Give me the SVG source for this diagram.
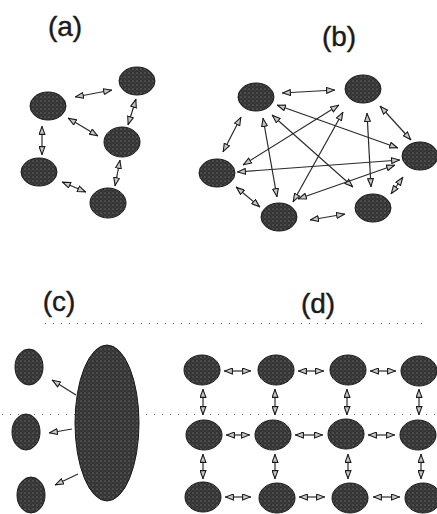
<svg xmlns="http://www.w3.org/2000/svg" width="437" height="514" viewBox="0 0 437 514">
<style>
.lbl{font-family:"Liberation Sans",Arial,sans-serif;font-size:28px;fill:#1a1a1a;stroke:#1a1a1a;stroke-width:0.4;text-anchor:middle}
.nd{fill:url(#tex);stroke:#1a1a1a;stroke-width:1}
.ln{stroke:#2a2a2a;stroke-width:1.2;fill:none}
.bi{marker-start:url(#ah);marker-end:url(#ah)}
.one{marker-end:url(#ah)}
.dot{stroke:#777;stroke-width:1;stroke-dasharray:1 7;fill:none}
</style>
<defs>
<pattern id="tex" width="4" height="4" patternUnits="userSpaceOnUse">
<rect width="4" height="4" fill="#343434"/>
<circle cx="1" cy="1" r="0.55" fill="#fff" opacity="0.55"/>
<circle cx="3" cy="3" r="0.45" fill="#ccc" opacity="0.35"/>
</pattern>
<marker id="ah" viewBox="0 0 9 7" refX="9" refY="3.5" markerWidth="9" markerHeight="7" markerUnits="userSpaceOnUse" orient="auto-start-reverse">
<path d="M0.6,0.6 L8.4,3.5 L0.6,6.4 z" fill="#c8c8c8" stroke="#1a1a1a" stroke-width="1.1"/>
</marker>
</defs>
<rect width="437" height="514" fill="#fff"/>
<g id="labels">
<text class="lbl" x="65" y="36">(a)</text>
<text class="lbl" x="339" y="46">(b)</text>
<text class="lbl" x="59" y="311">(c)</text>
<text class="lbl" x="318" y="313">(d)</text>
</g>
<g id="dividers">
<line class="dot" x1="45" y1="323.5" x2="425" y2="323.5"/>
<line class="dot" x1="2" y1="414.5" x2="437" y2="414.5"/>
</g>
<g id="connectors">
<line class="ln bi" x1="75" y1="97" x2="112" y2="90"/>
<line class="ln bi" x1="136" y1="99" x2="128" y2="125"/>
<line class="ln bi" x1="68" y1="118" x2="98" y2="136"/>
<line class="ln bi" x1="42" y1="126" x2="42" y2="155"/>
<line class="ln bi" x1="62" y1="182" x2="86" y2="192"/>
<line class="ln bi" x1="120" y1="160" x2="115" y2="186"/>
<line class="ln bi" x1="282" y1="93" x2="335" y2="90"/>
<line class="ln bi" x1="241" y1="117" x2="223" y2="152"/>
<line class="ln bi" x1="380" y1="106" x2="411" y2="140"/>
<line class="ln bi" x1="236" y1="187" x2="260" y2="207"/>
<line class="ln bi" x1="310" y1="220" x2="345" y2="214"/>
<line class="ln bi" x1="403" y1="177" x2="391" y2="194"/>
<line class="ln bi" x1="277" y1="105" x2="398" y2="148"/>
<line class="ln bi" x1="263" y1="118" x2="277" y2="197"/>
<line class="ln bi" x1="272" y1="115" x2="353" y2="187"/>
<line class="ln bi" x1="339" y1="105" x2="243" y2="165"/>
<line class="ln bi" x1="343" y1="112" x2="293" y2="202"/>
<line class="ln bi" x1="367" y1="113" x2="371" y2="187"/>
<line class="ln bi" x1="400" y1="160" x2="237" y2="172"/>
<line class="ln bi" x1="395" y1="165" x2="298" y2="199"/>
<line class="ln one" x1="76" y1="395" x2="52" y2="380"/>
<line class="ln one" x1="72" y1="429" x2="49" y2="433"/>
<line class="ln one" x1="78" y1="474" x2="55" y2="485"/>
<line class="ln bi" x1="224" y1="371" x2="251" y2="371"/>
<line class="ln bi" x1="298" y1="371" x2="324" y2="371"/>
<line class="ln bi" x1="370" y1="371" x2="396" y2="371"/>
<line class="ln bi" x1="226" y1="435" x2="250" y2="435"/>
<line class="ln bi" x1="295" y1="435" x2="323" y2="435"/>
<line class="ln bi" x1="368" y1="435" x2="395" y2="435"/>
<line class="ln bi" x1="225" y1="497" x2="251" y2="497"/>
<line class="ln bi" x1="299" y1="497" x2="325" y2="497"/>
<line class="ln bi" x1="373" y1="497" x2="400" y2="497"/>
<line class="ln bi" x1="203" y1="389" x2="203" y2="415"/>
<line class="ln bi" x1="275" y1="389" x2="275" y2="415"/>
<line class="ln bi" x1="347" y1="389" x2="347" y2="415"/>
<line class="ln bi" x1="419" y1="389" x2="419" y2="415"/>
<line class="ln bi" x1="203" y1="454" x2="203" y2="479"/>
<line class="ln bi" x1="275" y1="454" x2="275" y2="479"/>
<line class="ln bi" x1="348" y1="454" x2="348" y2="479"/>
<line class="ln bi" x1="421" y1="454" x2="421" y2="479"/>
</g>
<g id="a1"><ellipse class="nd" cx="48" cy="106" rx="18" ry="14"/></g>
<g id="a2"><ellipse class="nd" cx="137" cy="81" rx="18" ry="14"/></g>
<g id="a3"><ellipse class="nd" cx="122" cy="142" rx="18" ry="15"/></g>
<g id="a4"><ellipse class="nd" cx="39" cy="172" rx="18" ry="14"/></g>
<g id="a5"><ellipse class="nd" cx="108" cy="203" rx="18" ry="15"/></g>
<g id="b1"><ellipse class="nd" cx="256" cy="97" rx="18" ry="14"/></g>
<g id="b2"><ellipse class="nd" cx="363" cy="89" rx="18" ry="14"/></g>
<g id="b3"><ellipse class="nd" cx="420" cy="156" rx="18" ry="14"/></g>
<g id="b4"><ellipse class="nd" cx="217" cy="173" rx="18" ry="14"/></g>
<g id="b5"><ellipse class="nd" cx="279" cy="217" rx="18" ry="14"/></g>
<g id="b6"><ellipse class="nd" cx="373" cy="208" rx="18" ry="14"/></g>
<g id="c0"><ellipse class="nd" cx="107" cy="423" rx="32" ry="78"/></g>
<g id="c1"><ellipse class="nd" cx="29" cy="367" rx="14" ry="18"/></g>
<g id="c2"><ellipse class="nd" cx="26" cy="432" rx="14" ry="18"/></g>
<g id="c3"><ellipse class="nd" cx="31" cy="495" rx="14" ry="18"/></g>
<g id="d11"><ellipse class="nd" cx="202" cy="370" rx="18" ry="15"/></g>
<g id="d12"><ellipse class="nd" cx="276" cy="370" rx="18" ry="15"/></g>
<g id="d13"><ellipse class="nd" cx="348" cy="370" rx="18" ry="15"/></g>
<g id="d14"><ellipse class="nd" cx="419" cy="371" rx="18" ry="15"/></g>
<g id="d21"><ellipse class="nd" cx="204" cy="435" rx="18" ry="15"/></g>
<g id="d22"><ellipse class="nd" cx="273" cy="435" rx="18" ry="15"/></g>
<g id="d23"><ellipse class="nd" cx="346" cy="434" rx="18" ry="15"/></g>
<g id="d24"><ellipse class="nd" cx="418" cy="435" rx="18" ry="15"/></g>
<g id="d31"><ellipse class="nd" cx="203" cy="497" rx="18" ry="15"/></g>
<g id="d32"><ellipse class="nd" cx="277" cy="498" rx="18" ry="15"/></g>
<g id="d33"><ellipse class="nd" cx="350" cy="498" rx="18" ry="15"/></g>
<g id="d34"><ellipse class="nd" cx="423" cy="498" rx="18" ry="15"/></g>
</svg>
